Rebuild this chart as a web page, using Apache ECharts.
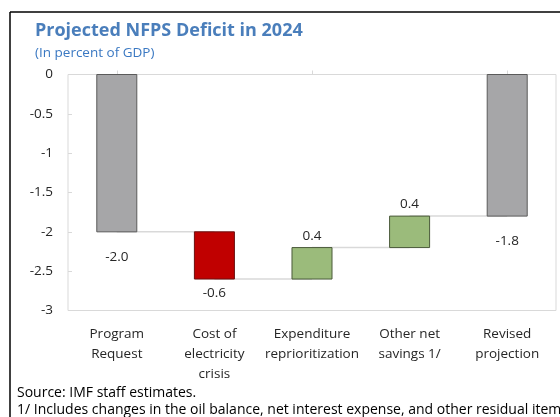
<!DOCTYPE html>
<html>
<head>
<meta charset="utf-8">
<script src="https://cdn.jsdelivr.net/npm/echarts@6/dist/echarts.min.js"></script>
<style>
  html, body { margin: 0; padding: 0; background: #fff; }
  #chart { width: 560px; height: 417px; }
</style>
</head>
<body>
<div id="chart"></div>
<script>
// Waterfall: NFPS deficit bridge, in percent of GDP
const categories = ['Program\nRequest', 'Cost of\nelectricity\ncrisis', 'Expenditure\nreprioritization', 'Other net\nsavings 1/', 'Revised\nprojection'];
const changes = [-2.0, -0.6, 0.4, 0.4, -1.8];
const kinds = ['total', 'change', 'change', 'change', 'total'];
const valueLabels = ['-2.0', '-0.6', '0.4', '0.4', '-1.8'];
const yTicks = { min: -3, max: 0, step: 0.5 };

// Start/end of each bar along the value axis
const spans = [];
let level = 0;
changes.forEach((c, i) => {
  if (kinds[i] === 'total') {
    spans.push([0, c]);
    level = c;
  } else {
    spans.push([level, level + c]);
    level = level + c;
  }
});

const fills = { total: '#a6a6a8', neg: '#c00000', pos: '#9bbb7b' };
const font = '"Open Sans", "Noto Sans", sans-serif';
const textColor = '#262626';

const barData = spans.map((s, i) => [i, s[0], s[1]]);
const linkData = spans.slice(0, -1).map((s, i) => [i, s[1]]);

const chart = echarts.init(document.getElementById('chart'), null, { renderer: 'canvas' });

chart.setOption({
  animation: false,
  backgroundColor: '#fff',
  grid: { left: 68, right: 4, top: 74.5, bottom: 106.5, show: true, borderColor: '#d9d9d9', borderWidth: 1, containLabel: false },
  graphic: [
    { type: 'line', shape: { x1: 10, y1: 12, x2: 560, y2: 12 }, style: { stroke: '#000', lineWidth: 1.5 } },
    { type: 'line', shape: { x1: 10, y1: 12, x2: 10, y2: 417 }, style: { stroke: '#000', lineWidth: 1.5 } },
    { type: 'text', left: 35, top: 22, style: { text: 'Projected NFPS Deficit in 2024', font: 'bold 18px ' + font, fill: '#4a7ebb' } },
    { type: 'text', left: 35, top: 46, style: { text: '(In percent of GDP)', font: '13.5px ' + font, fill: '#3a78c2' } },
    { type: 'text', left: 17, top: 386, style: { text: 'Source: IMF staff estimates.', font: '14px ' + font, fill: '#000' } },
    { type: 'text', left: 17, top: 403, style: { text: '1/ Includes changes in the oil balance, net interest expense, and other residual items.', font: '14px ' + font, fill: '#000' } }
  ],
  xAxis: [
    {
      type: 'category', data: categories, position: 'bottom',
      axisLine: { show: false }, axisTick: { show: false },
      axisLabel: { margin: 14, color: textColor, fontFamily: font, fontSize: 13.5, lineHeight: 20, interval: 0 }
    },
    {
      type: 'category', data: categories, position: 'top',
      axisLine: { show: false },
      axisTick: { show: true, alignWithLabel: true, length: 4, lineStyle: { color: '#d9d9d9' } },
      axisLabel: { show: false }
    }
  ],
  yAxis: {
    type: 'value', min: yTicks.min, max: yTicks.max, interval: yTicks.step,
    axisLine: { show: false },
    axisTick: { show: true, inside: true, length: 4, lineStyle: { color: '#d9d9d9' } },
    splitLine: { show: false },
    axisLabel: { margin: 15, color: textColor, fontFamily: font, fontSize: 13.5 }
  },
  series: [
    {
      // connector lines between consecutive bars
      type: 'custom', z: 1, data: linkData,
      encode: { x: 0, y: 1 },
      renderItem: (params, api) => {
        const i = api.value(0);
        const v = api.value(1);
        const p1 = api.coord([i, v]);
        const p2 = api.coord([i + 1, v]);
        return { type: 'line', shape: { x1: p1[0], y1: p1[1], x2: p2[0], y2: p2[1] }, style: { stroke: '#d9d9d9', lineWidth: 1.5 } };
      }
    },
    {
      type: 'custom', z: 2, data: barData,
      encode: { x: 0, y: [1, 2] },
      renderItem: (params, api) => {
        const i = api.value(0);
        const a = api.value(1);
        const b = api.value(2);
        const pa = api.coord([i, a]);
        const pb = api.coord([i, b]);
        const w = api.size([1, 0])[0] * 0.41;
        const top = Math.min(pa[1], pb[1]);
        const h = Math.abs(pa[1] - pb[1]);
        const kind = kinds[i];
        const up = b > a;
        const fill = kind === 'total' ? fills.total : (up ? fills.pos : fills.neg);
        const stroke = kind === 'total' ? '#5a5a5a' : (up ? '#4a5a3a' : '#6a1010');
        return {
          type: 'rect',
          shape: { x: pa[0] - w / 2, y: top, width: w, height: h },
          style: { fill: fill, stroke: stroke, lineWidth: 1 },
          textContent: {
            style: { text: valueLabels[i], fill: textColor, font: '13.5px ' + font }
          },
          textConfig: { position: up ? 'top' : 'bottom', distance: kind === 'total' ? 18 : (up ? 4 : 7) }
        };
      }
    }
  ]
});
</script>
</body>
</html>
